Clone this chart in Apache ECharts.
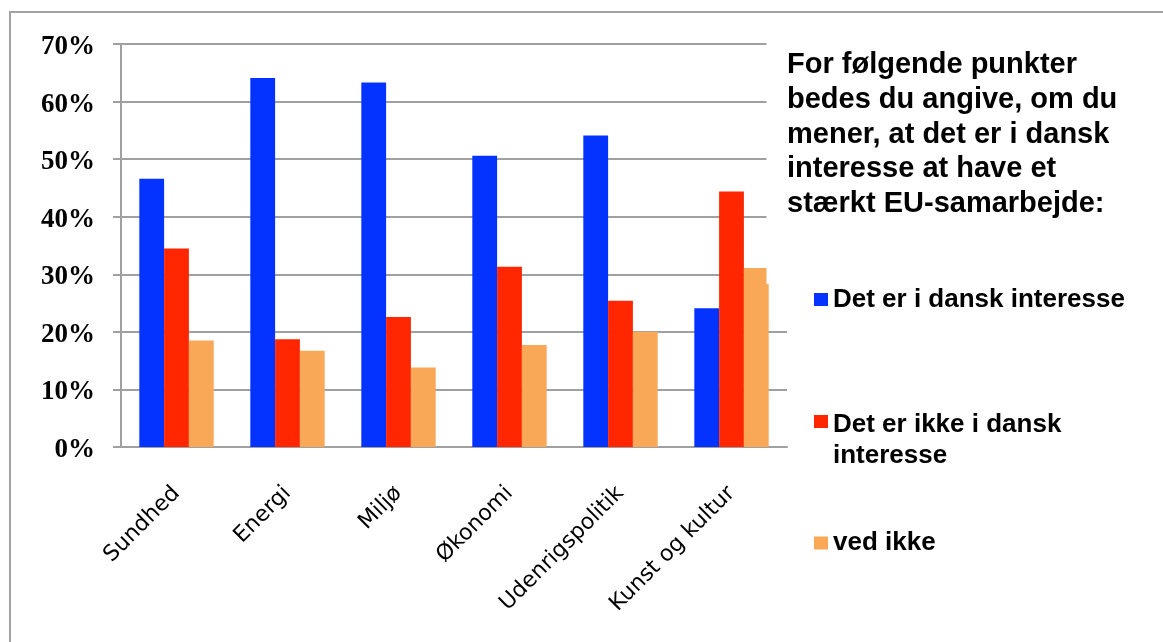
<!DOCTYPE html>
<html>
<head>
<meta charset="utf-8">
<script src="https://cdn.jsdelivr.net/npm/echarts@6/dist/echarts.min.js"></script>
<style>
html,body{margin:0;padding:0;background:#fff;overflow:hidden}
#c{width:1163px;height:642px}
</style>
</head>
<body>
<div id="c"></div>
<script>
const categories = ['Sundhed', 'Energi', 'Miljø', 'Økonomi', 'Udenrigspolitik', 'Kunst og kultur'];
const seriesNames = ['Det er i dansk interesse', 'Det er ikke i dansk interesse', 'ved ikke'];
const interesse = [46.6, 64.1, 63.3, 50.6, 54.1, 24.1];
const ikkeInteresse = [34.5, 18.7, 22.6, 31.3, 25.4, 44.4];
const vedIkke = [18.5, 16.7, 13.8, 17.7, 20.0, 31.1];
const yTicks = { min: 0, max: 70, interval: 10 };
const titleText = 'For følgende punkter\nbedes du angive, om du\nmener, at det er i dansk\ninteresse at have et\nstærkt EU-samarbejde:';

const colors = ['#0433FF', '#FF2600', '#F9A857'];
const gray = '#a0a0a0';
const legendText = { fontFamily: 'Liberation Sans', fontWeight: 'bold', fontSize: 26, color: '#000', lineHeight: 26 };

const chart = echarts.init(document.getElementById('c'), null, { renderer: 'canvas' });
chart.setOption({
  animation: false,
  backgroundColor: '#fff',
  color: colors,
  title: {
    text: titleText,
    left: 787, top: 48, padding: 0,
    textStyle: { fontFamily: 'Liberation Sans', fontWeight: 'bold', fontSize: 29, lineHeight: 34.7, color: '#000' }
  },
  legend: [
    { data: [seriesNames[0]], left: 814, top: 286.5, padding: 0, itemWidth: 14, itemHeight: 13, icon: 'rect', textStyle: legendText },
    { data: [seriesNames[1]], left: 814, top: 409.5, padding: 0, itemWidth: 14, itemHeight: 51,
      icon: 'path://M0,0L14,0L14,13L0,13Z M14,51L14,51Z',
      formatter: () => 'Det er ikke i dansk\ninteresse',
      textStyle: Object.assign({}, legendText, { lineHeight: 31 }) },
    { data: [seriesNames[2]], left: 814, top: 530, padding: 0, itemWidth: 14, itemHeight: 13, icon: 'rect', textStyle: legendText }
  ],
  grid: { left: 121, top: 44, width: 666, height: 403 },
  xAxis: {
    type: 'category',
    data: categories,
    axisLine: { lineStyle: { color: gray, width: 2 } },
    axisTick: { length: 8, lineStyle: { color: gray, width: 2 } },
    axisLabel: { rotate: 45, margin: 43, interval: 0, fontFamily: 'DejaVu Sans', fontSize: 22, color: '#000' }
  },
  yAxis: {
    type: 'value',
    min: yTicks.min, max: yTicks.max, interval: yTicks.interval,
    axisLine: { show: true, lineStyle: { color: gray, width: 2 } },
    axisTick: { show: true, length: 8, lineStyle: { color: gray, width: 2 } },
    splitLine: { lineStyle: { color: gray, width: 2 } },
    axisLabel: { formatter: '{value}%', margin: 26, verticalAlign: 'top', lineHeight: 6, fontFamily: 'Liberation Serif', fontWeight: 'bold', fontSize: 27, color: '#000' }
  },
  series: [
    { name: seriesNames[0], type: 'bar', data: interesse, barGap: '0%', barCategoryGap: '33%' },
    { name: seriesNames[1], type: 'bar', data: ikkeInteresse, barGap: '0%', barCategoryGap: '33%' },
    { name: seriesNames[2], type: 'bar', data: vedIkke, barGap: '0%', barCategoryGap: '33%' }
  ],
  graphic: [
    { type: 'rect', silent: true, z: -10, shape: { x: 10, y: 12, width: 1400, height: 900 },
      style: { fill: null, stroke: '#a3a3a3', lineWidth: 2 } },
    { type: 'rect', silent: true, z: 5, shape: { x: 766.5, y: 14, width: 390, height: 270 },
      style: { fill: '#fff' } }
  ]
});
</script>
</body>
</html>
